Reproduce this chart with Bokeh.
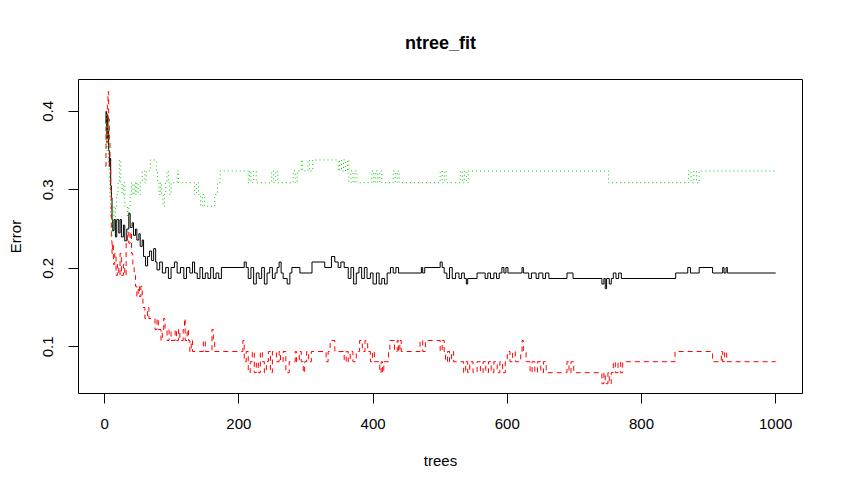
from bokeh.plotting import figure
from bokeh.models import Range1d, FixedTicker
from bokeh.embed import file_html
from bokeh.resources import INLINE

# ---- data (tree at which a step starts, error value) ----
oob_steps = [
(1,0.385),(2,0.400),(3,0.365),(4,0.395),(5,0.375),(6,0.350),(7,0.330),(8,0.340),(9,0.305),(10,0.290),
(11,0.262),(12,0.248),(14,0.262),(16,0.240),(18,0.262),(21,0.245),(23,0.262),(25,0.240),(28,0.255),(30,0.235),
(33,0.250),(36,0.270),(38,0.252),(41,0.258),(43,0.242),(46,0.250),(48,0.236),(51,0.244),(53,0.228),(56,0.236),
(58,0.215),(61,0.203),(64,0.215),(67,0.222),(70,0.210),(73,0.225),(76,0.208),(78,0.198),(82,0.208),(86,0.194),
(91,0.201),(95,0.187),(99,0.201),(104,0.208),(108,0.194),(113,0.201),(118,0.187),(122,0.201),(127,0.194),(131,0.208),
(134,0.194),(138,0.187),(142,0.201),(146,0.187),(150,0.194),(154,0.187),(158,0.201),(162,0.187),(166,0.194),(170,0.187),
(174,0.201),(208,0.208),(211,0.201),(214,0.187),(218,0.201),(222,0.180),(226,0.194),(230,0.187),(234,0.201),(238,0.180),
(242,0.194),(246,0.201),(250,0.187),(254,0.194),(257,0.201),(260,0.208),(263,0.194),(266,0.187),(272,0.180),(276,0.194),
(279,0.201),(291,0.194),(309,0.208),(328,0.201),(338,0.215),(343,0.208),(348,0.201),(352,0.208),(357,0.201),(363,0.187),
(367,0.201),(371,0.180),(375,0.194),(379,0.201),(383,0.187),(387,0.201),(391,0.187),(396,0.194),(400,0.180),(405,0.194),
(409,0.180),(413,0.187),(417,0.180),(421,0.194),(426,0.201),(430,0.194),(434,0.201),(438,0.194),(472,0.201),(474,0.194),
(477,0.201),(500,0.208),(503,0.201),(506,0.194),(510,0.187),(514,0.201),(518,0.187),(523,0.194),(528,0.187),(532,0.194),
(536,0.187),(539,0.180),(541,0.187),(555,0.194),(567,0.187),(571,0.194),(575,0.187),(580,0.194),(584,0.187),(588,0.194),
(592,0.201),(595,0.194),(598,0.201),(601,0.194),(622,0.201),(624,0.194),(632,0.187),(636,0.194),(643,0.187),(647,0.194),
(653,0.187),(657,0.194),(662,0.187),(689,0.194),(698,0.187),(741,0.180),(744,0.187),(746,0.174),(748,0.187),(752,0.180),
(755,0.187),(758,0.194),(762,0.187),(766,0.194),(770,0.187),(851,0.194),(869,0.201),(873,0.194),(886,0.201),(906,0.194),
(921,0.201),(923,0.194),(926,0.201),(928,0.194),(1000,0.194),
]

class1_steps = [
(1,0.330),(2,0.380),(3,0.360),(4,0.410),(5,0.425),(6,0.390),(7,0.360),(8,0.330),(9,0.300),(10,0.235),
(11,0.219),(12,0.232),(13,0.205),(15,0.219),(17,0.191),(19,0.205),(21,0.191),(23,0.219),(25,0.191),(28,0.205),
(30,0.191),(32,0.232),(34,0.246),(36,0.232),(38,0.246),(40,0.219),(42,0.205),(44,0.191),(46,0.177),(48,0.164),
(50,0.177),(52,0.164),(54,0.177),(56,0.164),(57,0.150),(60,0.136),(64,0.150),(66,0.136),(75,0.122),(78,0.136),
(80,0.122),(84,0.108),(86,0.122),(88,0.136),(90,0.122),(93,0.108),(96,0.122),(99,0.108),(105,0.122),(107,0.108),
(110,0.122),(112,0.108),(117,0.122),(119,0.136),(120,0.108),(123,0.122),(125,0.108),(127,0.094),(129,0.108),(131,0.094),
(147,0.108),(150,0.094),(160,0.122),(162,0.108),(164,0.094),(206,0.108),(208,0.081),(211,0.094),(214,0.067),(217,0.081),
(220,0.094),(223,0.067),(226,0.081),(229,0.067),(232,0.094),(235,0.081),(238,0.067),(241,0.081),(244,0.094),(247,0.067),
(250,0.094),(256,0.081),(260,0.094),(262,0.081),(266,0.094),(270,0.067),(275,0.081),(284,0.094),(286,0.081),(290,0.094),
(293,0.081),(296,0.067),(298,0.081),(301,0.094),(304,0.081),(308,0.094),(330,0.081),(333,0.094),(336,0.108),(343,0.094),
(357,0.081),(360,0.094),(363,0.081),(366,0.094),(370,0.081),(375,0.094),(380,0.108),(384,0.094),(388,0.108),(392,0.094),
(396,0.081),(399,0.094),(402,0.081),(410,0.067),(412,0.081),(414,0.067),(416,0.081),(423,0.094),(425,0.108),(432,0.094),
(436,0.108),(438,0.094),(440,0.108),(442,0.094),(470,0.108),(474,0.094),(478,0.108),(500,0.094),(503,0.108),(506,0.094),
(508,0.081),(511,0.094),(514,0.081),(517,0.094),(520,0.081),(535,0.067),(538,0.081),(541,0.067),(544,0.081),(549,0.067),
(555,0.081),(560,0.067),(564,0.081),(568,0.067),(572,0.081),(576,0.067),(580,0.081),(585,0.067),(589,0.081),(593,0.067),
(597,0.081),(600,0.094),(604,0.081),(608,0.094),(612,0.081),(620,0.094),(622,0.108),(624,0.094),(628,0.081),(634,0.067),
(637,0.081),(641,0.067),(645,0.081),(650,0.067),(654,0.081),(658,0.067),(689,0.081),(692,0.067),(695,0.081),(699,0.067),
(741,0.053),(744,0.067),(746,0.053),(750,0.067),(752,0.053),(755,0.067),(758,0.081),(761,0.067),(765,0.081),(769,0.067),
(772,0.081),(850,0.094),(906,0.081),(919,0.094),(921,0.081),(924,0.094),(927,0.081),(1000,0.081),
]

class2_steps = [
(1,0.370),(2,0.400),(3,0.350),(4,0.380),(5,0.360),(6,0.330),(7,0.310),(8,0.290),(9,0.265),(10,0.240),
(11,0.250),(12,0.279),(14,0.265),(16,0.279),(18,0.294),(20,0.309),(22,0.338),(24,0.309),(26,0.294),(28,0.309),
(30,0.279),(34,0.265),(36,0.279),(38,0.294),(40,0.309),(42,0.294),(44,0.309),(46,0.294),(48,0.309),(50,0.294),
(53,0.309),(56,0.324),(60,0.309),(62,0.324),(68,0.338),(77,0.324),(79,0.309),(81,0.294),(83,0.309),(85,0.294),
(87,0.279),(89,0.294),(91,0.309),(93,0.324),(95,0.309),(97,0.294),(99,0.309),(108,0.324),(110,0.309),(134,0.294),
(137,0.309),(140,0.294),(143,0.279),(146,0.294),(149,0.279),(164,0.294),(168,0.309),(172,0.324),(214,0.309),(216,0.324),
(218,0.309),(222,0.324),(226,0.309),(249,0.324),(252,0.309),(255,0.324),(258,0.309),(281,0.324),(284,0.309),(287,0.324),
(293,0.338),(295,0.324),(303,0.338),(305,0.324),(310,0.338),(348,0.324),(350,0.338),(353,0.324),(356,0.338),(359,0.324),
(362,0.338),(364,0.309),(367,0.324),(370,0.309),(373,0.324),(376,0.309),(398,0.324),(401,0.309),(404,0.324),(407,0.309),
(410,0.324),(413,0.309),(430,0.324),(433,0.309),(436,0.324),(439,0.309),(500,0.324),(503,0.309),(506,0.324),(509,0.309),
(530,0.324),(533,0.309),(536,0.324),(539,0.309),(542,0.324),(751,0.309),(870,0.324),(874,0.309),(878,0.324),(882,0.309),
(886,0.324),(1000,0.324),
]

x_ticks = [0, 200, 400, 600, 800, 1000]
y_ticks = [0.1, 0.2, 0.3, 0.4]
title_text = "ntree_fit"
x_label = "trees"
y_label = "Error"

FONT = "Liberation Sans"

p = figure(width=844, height=492, output_backend="svg", toolbar_location=None,
           x_range=Range1d(-38.96, 1039.96), y_range=Range1d(0.0405, 0.4405),
           min_border_left=78, min_border_right=42, min_border_top=79, min_border_bottom=99)
p.xgrid.visible = False
p.ygrid.visible = False
p.outline_line_color = "black"
p.outline_line_width = 1
p.outline_line_alpha = 1
p.background_fill_color = "white"
p.border_fill_color = "white"

p.title.text = title_text
p.title.align = "center"
p.title.text_font = FONT
p.title.text_font_size = "18px"
p.title.text_font_style = "bold"
p.title.text_color = "black"
p.title.standoff = 54

for ax in (p.xaxis[0], p.yaxis[0]):
    ax.axis_line_color = None
    ax.major_tick_out = 10
    ax.major_tick_in = 0
    ax.minor_tick_out = 0
    ax.minor_tick_in = 0
    ax.major_tick_line_color = "black"
    ax.major_label_text_font = FONT
    ax.major_label_text_font_size = "15px"
    ax.major_label_text_color = "black"
    ax.axis_label_text_font = FONT
    ax.axis_label_text_font_size = "15px"
    ax.axis_label_text_font_style = "normal"
    ax.axis_label_text_color = "black"

p.xaxis.ticker = FixedTicker(ticks=x_ticks)
p.yaxis.ticker = FixedTicker(ticks=y_ticks)
p.xaxis.axis_label = x_label
p.yaxis.axis_label = y_label
p.xaxis.major_label_standoff = 15
p.xaxis.axis_label_standoff = 20
p.yaxis.major_label_orientation = "parallel"
p.yaxis.major_label_standoff = 15
p.yaxis.axis_label_standoff = 17

def unzip(steps):
    return [s[0] for s in steps], [s[1] for s in steps]

tx, ty = unzip(oob_steps)
p.step(tx, ty, mode="after", line_color="black", line_width=1)
tx, ty = unzip(class1_steps)
p.step(tx, ty, mode="after", line_color="#FF0000", line_width=1, line_dash="5 4")
tx, ty = unzip(class2_steps)
p.step(tx, ty, mode="after", line_color="#00CD00", line_width=1, line_dash="1 3")

open("out.html", "w").write(file_html(p, INLINE))
